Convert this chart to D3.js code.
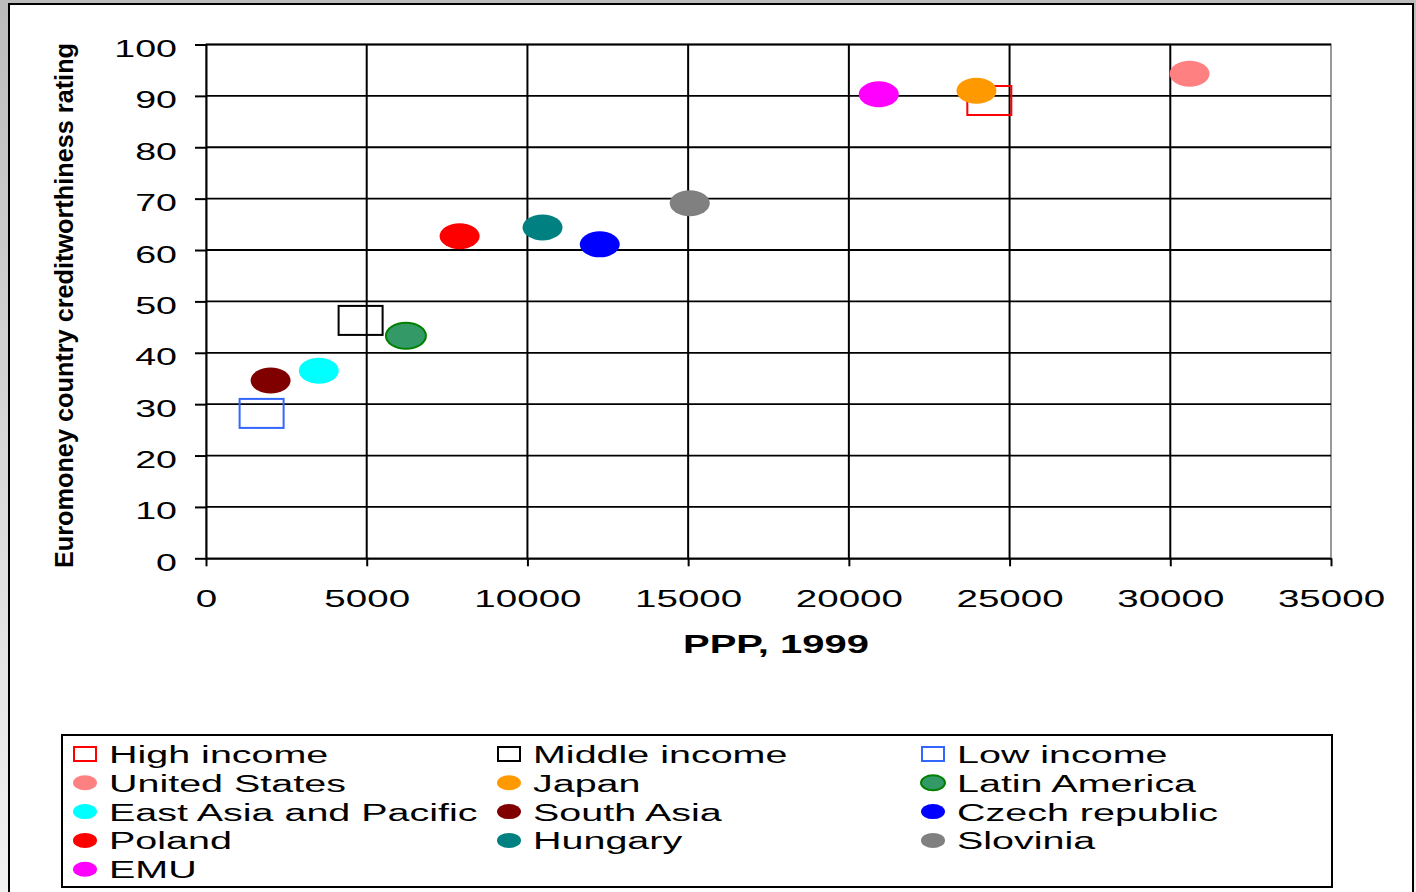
<!DOCTYPE html>
<html>
<head>
<meta charset="utf-8">
<script src="https://cdn.jsdelivr.net/npm/d3@7"></script>
<style>
  html, body { margin: 0; padding: 0; }
  body { width: 1416px; height: 892px; overflow: hidden;
         background: linear-gradient(#bcbcbc, #f2f2f2); }
  svg { display: block; font-family: "Liberation Sans", Arial, sans-serif; }
</style>
</head>
<body>
<svg id="chart" width="1416" height="892"></svg>
<script>
// Regions / countries plotted: GDP per capita (PPP, 1999) vs Euromoney rating
const categories = ["High income", "Middle income", "Low income",
  "United States", "Japan", "Latin America",
  "East Asia and Pacific", "South Asia", "Czech republic",
  "Poland", "Hungary", "Slovinia", "EMU"];
const ppp    = [24370, 4810, 1730, 30600, 23970, 6220, 3510, 2010, 12250, 7890, 10470, 15050, 20930];
const rating = [89.1, 46.3, 28.2, 94.3, 91.0, 43.3, 36.5, 34.6, 61.1, 62.7, 64.4, 69.1, 90.3];
const shapes = ["square", "square", "square",
  "circle", "circle", "circle", "circle", "circle", "circle",
  "circle", "circle", "circle", "circle"];
const fills   = ["none", "none", "none", "#ff8080", "#ff9900", "#339966",
  "#00ffff", "#800000", "#0000ff", "#ff0000", "#008080", "#808080", "#ff00ff"];
const strokes = ["#ff0000", "#000000", "#3366ff", "none", "none", "#008000",
  "none", "none", "none", "none", "none", "none", "none"];

const xTicks = [0, 5000, 10000, 15000, 20000, 25000, 30000, 35000];
const yTicks = [0, 10, 20, 30, 40, 50, 60, 70, 80, 90, 100];

const xTitle = "PPP, 1999";
const yTitle = "Euromoney country creditworthiness rating";

const SX = 1.6;      // horizontal text stretch for axis labels
const SX_LEG = 1.68; // horizontal text stretch for legend labels

const svg = d3.select("#chart");

// outer chart frame
svg.append("rect").attr("x", 9).attr("y", 4).attr("width", 1404).attr("height", 900)
  .attr("fill", "#fff").attr("stroke", "#000").attr("stroke-width", 2);

const x = d3.scaleLinear().domain([0, 35000]).range([206, 1331]);
const y = d3.scaleLinear().domain([0, 100]).range([558.3, 44.5]);

// plot area border (grey top/right)
svg.append("rect").attr("x", x(0)).attr("y", y(100))
  .attr("width", x(35000) - x(0)).attr("height", y(0) - y(100))
  .attr("fill", "#fff").attr("stroke", "#999").attr("stroke-width", 2);

// gridlines
svg.append("g").selectAll("line").data(yTicks.filter(d => d > 0)).join("line")
  .attr("x1", x(0)).attr("x2", x(35000))
  .attr("y1", d => y(d)).attr("y2", d => y(d))
  .attr("stroke", "#000").attr("stroke-width", 1.8);
svg.append("g").selectAll("line").data(xTicks.filter(d => d > 0 && d < 35000)).join("line")
  .attr("x1", d => x(d)).attr("x2", d => x(d))
  .attr("y1", y(0)).attr("y2", y(100))
  .attr("stroke", "#000").attr("stroke-width", 2);

// axes
const yAxis = svg.append("g").attr("transform", `translate(${x(0)},0)`)
  .call(d3.axisLeft(y).tickValues(yTicks).tickSize(11).tickSizeOuter(0).tickFormat(d3.format("d")));
const xAxis = svg.append("g").attr("transform", `translate(0,${y(0)})`)
  .call(d3.axisBottom(x).tickValues(xTicks).tickSize(8).tickSizeOuter(0).tickFormat(d3.format("d")));

[yAxis, xAxis].forEach(g => {
  g.select(".domain").attr("stroke", "#000").attr("stroke-width", 2);
  g.selectAll(".tick line").attr("stroke", "#000").attr("stroke-width", 2);
  g.selectAll(".tick text").attr("fill", "#000")
    .attr("font-family", "'Liberation Sans', Arial, sans-serif")
    .attr("font-size", 23.5);
});
yAxis.selectAll(".tick text").attr("x", -29 / SX).attr("dy", 12)
  .attr("transform", `scale(${SX},1)`);
xAxis.selectAll(".tick text").attr("y", 49).attr("dy", 0)
  .attr("transform", `scale(1.64,1)`);

// axis titles
svg.append("text")
  .attr("transform", `translate(776,653) scale(${SX},1)`)
  .attr("text-anchor", "middle").attr("font-weight", "bold").attr("font-size", 25)
  .text(xTitle);
svg.append("text")
  .attr("transform", "translate(73,568) rotate(-90)")
  .attr("font-weight", "bold").attr("font-size", 25)
  .attr("textLength", 525).attr("lengthAdjust", "spacingAndGlyphs")
  .text(yTitle);

// markers
function drawMarker(sel, shape, fill, stroke, cx, cy, w, h, sw) {
  if (shape === "square") {
    sel.append("rect").attr("x", cx - w / 2).attr("y", cy - h / 2)
      .attr("width", w).attr("height", h)
      .attr("fill", "none").attr("stroke", stroke).attr("stroke-width", sw);
  } else {
    sel.append("ellipse").attr("cx", cx).attr("cy", cy)
      .attr("rx", w / 2).attr("ry", h / 2)
      .attr("fill", fill)
      .attr("stroke", stroke).attr("stroke-width", stroke === "none" ? 0 : sw);
  }
}

const pts = svg.append("g");
categories.forEach((c, i) => {
  const isSq = shapes[i] === "square";
  drawMarker(pts, shapes[i], fills[i], strokes[i], x(ppp[i]), y(rating[i]),
    isSq ? 44 : 40, isSq ? 29 : 26, 2);
});

// legend
const legend = svg.append("g");
legend.append("rect").attr("x", 62).attr("y", 735).attr("width", 1270).attr("height", 152)
  .attr("fill", "#fff").attr("stroke", "#000").attr("stroke-width", 2);
categories.forEach((c, i) => {
  const col = i % 3, row = Math.floor(i / 3);
  const base = 763 + row * 28.8;
  const mx = 85 + col * 424;
  const isSq = shapes[i] === "square";
  drawMarker(legend, shapes[i], fills[i], strokes[i], mx, base - 9,
    isSq ? 22 : 24, isSq ? 14 : 15, 2);
  legend.append("text")
    .attr("transform", `translate(${109 + col * 424},${base}) scale(${SX_LEG},1)`)
    .attr("font-size", 23.5).attr("fill", "#000")
    .text(c);
});
</script>
</body>
</html>
